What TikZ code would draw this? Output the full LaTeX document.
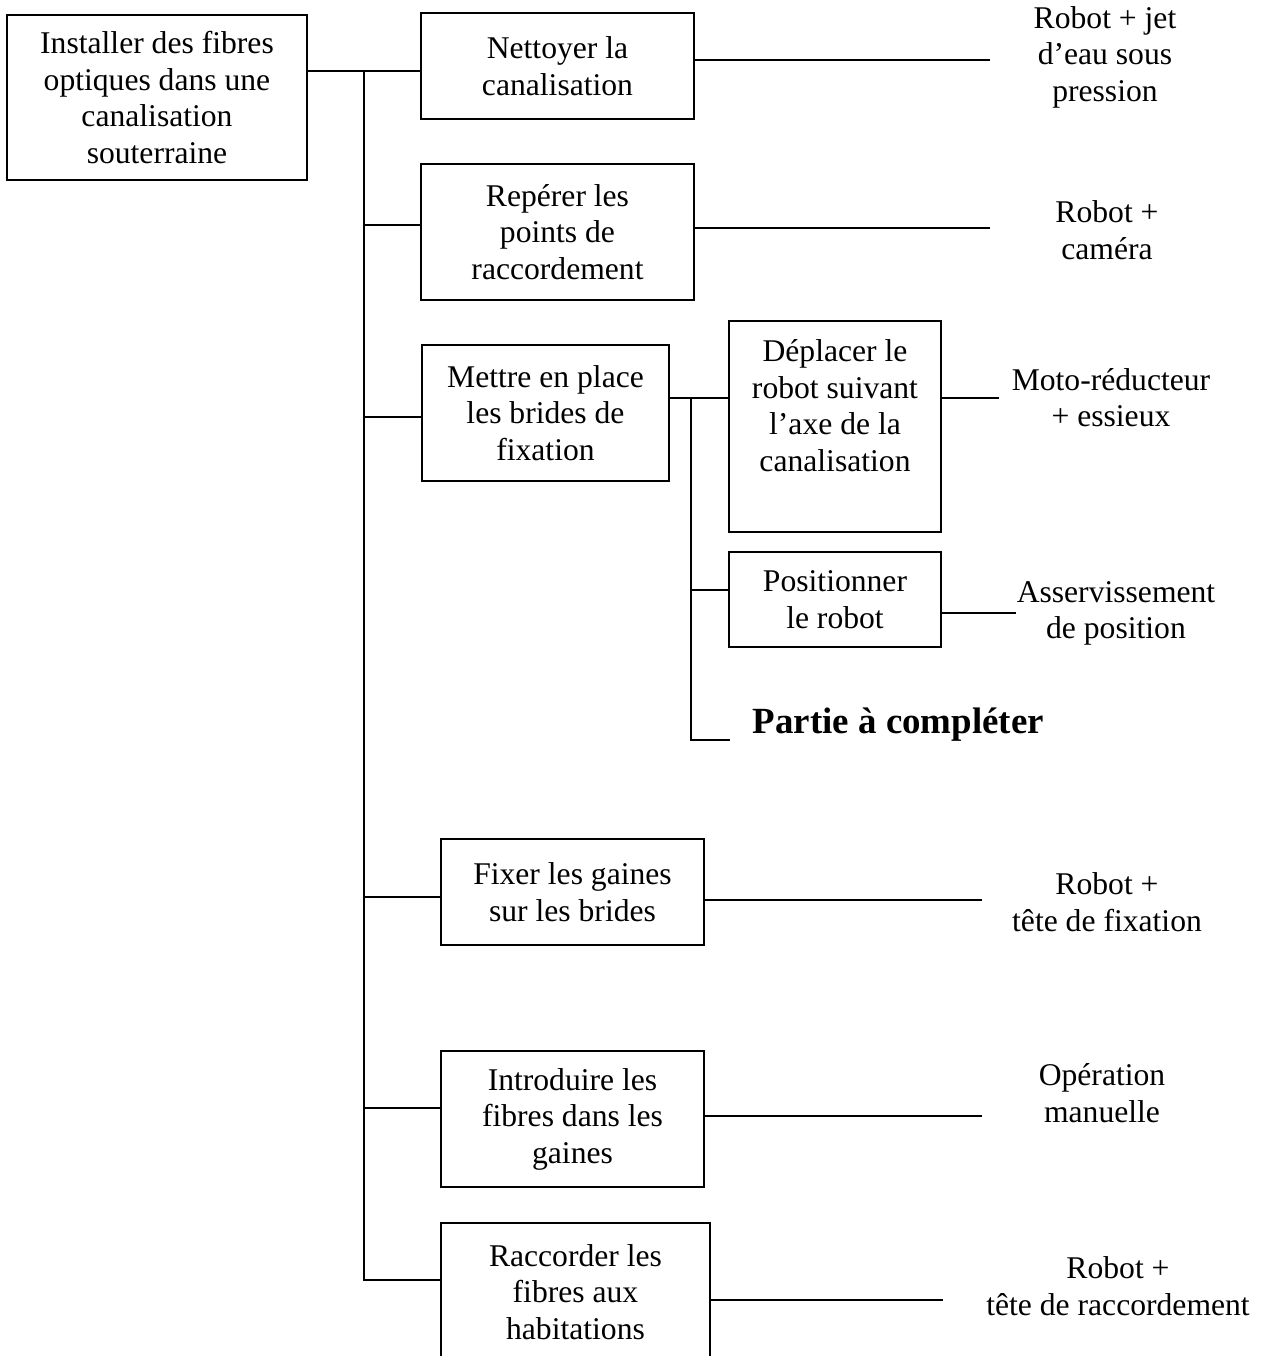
\documentclass[tikz,border=0pt]{standalone}
\usepackage{fontspec}
\setmainfont{Liberation Serif}
\begin{document}
\begin{tikzpicture}[x=0.02cm, y=-0.02cm, line width=1.1pt]
    \tikzstyle{every node}+=[inner sep=0pt, align=center, font=\fontsize{18}{20.8}\selectfont]
    \tikzstyle{fbox}=[draw, black]
    \useasboundingbox (0,0) rectangle (1263,1356);
    \clip (0,0) rectangle (1263,1356);
    \node [fbox, minimum width=6cm, minimum height=3.3cm] (fp) at (157,97.5) {Installer des fibres\\optiques dans une\\canalisation\\souterraine};
    \node [fbox, minimum width=5.46cm, minimum height=2.12cm] (ft1) at (557.5,66) {Nettoyer la\\canalisation};
    \node [fbox, minimum width=5.46cm, minimum height=2.72cm] (ft2) at (557.5,232) {Repérer les\\points de\\raccordement};
    \node [fbox, minimum width=4.94cm, minimum height=2.72cm] (ft3) at (545.5,413) {Mettre en place\\les brides de\\fixation};
    \node [fbox, minimum width=4.24cm, minimum height=4.22cm, text depth=24pt] (ft31) at (835,426.5) {Déplacer le\\robot suivant\\l’axe de la\\canalisation};
    \node [fbox, minimum width=4.24cm, minimum height=1.9cm] (ft32) at (835,599.5) {Positionner\\le robot};
    \node [anchor=base west, font=\fontsize{21}{24}\selectfont\bfseries] (part) at (752,733) {Partie à compléter};
    \node [fbox, minimum width=5.26cm, minimum height=2.12cm] (ft4) at (572.5,892) {Fixer les gaines\\sur les brides};
    \node [fbox, minimum width=5.26cm, minimum height=2.72cm] (ft5) at (572.5,1119) {Introduire les\\fibres dans les\\gaines};
    \node [fbox, minimum width=5.38cm, minimum height=2.76cm] (ft6) at (575.5,1292) {Raccorder les\\fibres aux\\habitations};
    \node (sol1) at (1105,57) {Robot + jet\\d’eau sous\\pression};
    \node (sol2) at (1107,230) {Robot +\\caméra};
    \node (sol3) at (1111,397.5) {Moto-réducteur\\+ essieux};
    \node (sol4) at (1116,613.5) {Asservissement\\de position};
    \node (sol5) at (1107,902) {Robot +\\tête de fixation};
    \node (sol6) at (1102,1093) {Opération\\manuelle};
    \node (sol7) at (1118,1286) {Robot +\\tête de raccordement};
    \coordinate (j1) at (364,71);
    \coordinate (j2) at (364,225);
    \coordinate (j3) at (364,417);
    \coordinate (j4) at (364,897);
    \coordinate (j5) at (364,1108);
    \coordinate (j6) at (364,1280);
    \coordinate (k1) at (691,398);
    \coordinate (k2) at (691,590);
    \coordinate (k3) at (730,740);
    \coordinate (e1) at (990,60);
    \coordinate (e2) at (990,228);
    \coordinate (e3) at (999,398);
    \coordinate (e4) at (1016,613);
    \coordinate (e5) at (982,900);
    \coordinate (e6) at (982,1116);
    \coordinate (e7) at (943,1300);
    \draw (fp.east |- j1) -- (ft1.west |- j1);
    \draw (j1) -- (j6) -- (ft6.west |- j6);
    \foreach \i in {2,3,4,5}
        \draw (j\i) -- (ft\i.west |- j\i);
    \draw (ft3.east |- k1) -- (ft31.west |- k1);
    \draw (k1) |- (k3);
    \draw (k2) -- (ft32.west |- k2);
    \draw (ft1.east |- e1) -- (e1);
    \draw (ft2.east |- e2) -- (e2);
    \draw (ft31.east |- e3) -- (e3);
    \draw (ft32.east |- e4) -- (e4);
    \draw (ft4.east |- e5) -- (e5);
    \draw (ft5.east |- e6) -- (e6);
    \draw (ft6.east |- e7) -- (e7);
\end{tikzpicture}
\end{document}
